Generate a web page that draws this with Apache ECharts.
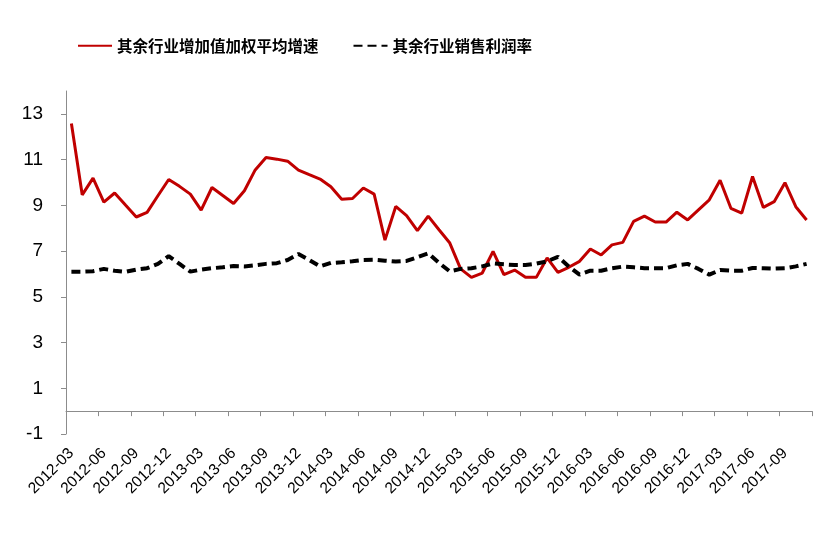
<!DOCTYPE html>
<html>
<head>
<meta charset="utf-8">
<script src="https://cdn.jsdelivr.net/npm/echarts@6/dist/echarts.min.js"></script>
<style>html,body{margin:0;padding:0;background:#fff;}#c{width:837px;height:538px;}</style>
</head>
<body>
<div id="c"></div>
<script>
var categories = [
 '2012-03','2012-04','2012-05','2012-06','2012-07','2012-08','2012-09','2012-10','2012-11','2012-12',
 '2013-01','2013-02','2013-03','2013-04','2013-05','2013-06','2013-07','2013-08','2013-09','2013-10','2013-11','2013-12',
 '2014-01','2014-02','2014-03','2014-04','2014-05','2014-06','2014-07','2014-08','2014-09','2014-10','2014-11','2014-12',
 '2015-01','2015-02','2015-03','2015-04','2015-05','2015-06','2015-07','2015-08','2015-09','2015-10','2015-11','2015-12',
 '2016-01','2016-02','2016-03','2016-04','2016-05','2016-06','2016-07','2016-08','2016-09','2016-10','2016-11','2016-12',
 '2017-01','2017-02','2017-03','2017-04','2017-05','2017-06','2017-07','2017-08','2017-09','2017-10','2017-11'
];
var growthName = '其余行业增加值加权平均增速';
var marginName = '其余行业销售利润率';
var growth = [
 12.58, 9.46, 10.19, 9.14, 9.54, 9.01, 8.49, 8.69, 9.42, 10.13,
 9.83, 9.49, 8.79, 9.78, 9.43, 9.08, 9.64, 10.55, 11.09, 11.02, 10.93, 10.54,
 10.34, 10.15, 9.81, 9.27, 9.30, 9.76, 9.49, 7.48, 8.95, 8.55, 7.89, 8.53,
 7.93, 7.35, 6.22, 5.85, 6.04, 6.99, 5.97, 6.17, 5.85, 5.85, 6.70, 6.07,
 6.29, 6.55, 7.09, 6.83, 7.27, 7.38, 8.30, 8.53, 8.27, 8.27, 8.70, 8.36,
 8.80, 9.24, 10.10, 8.87, 8.66, 10.26, 8.91, 9.16, 9.99, 8.94, 8.36
];
var margin = [
 6.10, 6.10, 6.12, 6.22, 6.14, 6.09, 6.19, 6.25, 6.44, 6.78,
 6.44, 6.10, 6.19, 6.25, 6.29, 6.35, 6.33, 6.38, 6.44, 6.47, 6.61, 6.87,
 6.61, 6.33, 6.48, 6.51, 6.55, 6.61, 6.62, 6.58, 6.54, 6.57, 6.73, 6.90,
 6.48, 6.11, 6.22, 6.25, 6.33, 6.46, 6.42, 6.39, 6.39, 6.45, 6.55, 6.75,
 6.33, 5.97, 6.14, 6.14, 6.25, 6.32, 6.29, 6.25, 6.25, 6.25, 6.38, 6.44,
 6.22, 5.97, 6.17, 6.14, 6.14, 6.26, 6.25, 6.23, 6.25, 6.33, 6.44
];
var yTicks = [-1, 1, 3, 5, 7, 9, 11, 13];

var chart = echarts.init(document.getElementById('c'), null, {renderer: 'canvas'});
var axisGray = '#8c8c8c';
chart.setOption({
  animation: false,
  backgroundColor: '#ffffff',
  legend: {
    left: 72,
    top: 33,
    itemWidth: 34,
    itemHeight: 14,
    itemGap: 34,
    itemStyle: {opacity: 0},
    textStyle: {fontFamily: 'Noto Sans CJK SC', fontWeight: 'bold', fontSize: 15.5, color: '#000'},
    data: [growthName, marginName]
  },
  grid: {left: 66, right: 25, top: 91, bottom: 104, containLabel: false},
  xAxis: [
    {
      type: 'category',
      data: categories,
      boundaryGap: true,
      axisLine: {onZero: true, lineStyle: {color: axisGray, width: 1}},
      axisTick: {show: true, interval: 2, length: 5, lineStyle: {color: axisGray}},
      axisLabel: {show: false},
      splitLine: {show: false}
    },
    {
      type: 'category',
      data: categories,
      position: 'bottom',
      boundaryGap: true,
      axisLine: {show: false, onZero: false},
      axisTick: {show: false},
      axisLabel: {
        interval: 2, rotate: 45, margin: 17,
        fontFamily: 'Liberation Sans, Arial', fontSize: 15.5, color: '#000'
      },
      splitLine: {show: false}
    }
  ],
  yAxis: {
    type: 'value',
    min: -1, max: 14, interval: 2,
    axisLine: {show: true, lineStyle: {color: axisGray, width: 1}},
    axisTick: {show: true, length: 5, customValues: yTicks, lineStyle: {color: axisGray}},
    axisLabel: {customValues: yTicks, margin: 23, fontFamily: 'Liberation Sans, Arial', fontSize: 19, color: '#000'},
    splitLine: {show: false}
  },
  series: [
    {
      name: growthName, type: 'line', data: growth, xAxisIndex: 0,
      symbol: 'none', smooth: false,
      lineStyle: {color: '#C00000', width: 3},
      itemStyle: {color: '#C00000'}
    },
    {
      name: marginName, type: 'line', data: margin, xAxisIndex: 0,
      symbol: 'none', smooth: false,
      lineStyle: {color: '#000000', width: 4, type: [9, 5]},
      itemStyle: {color: '#000000'}
    }
  ]
});
</script>
</body>
</html>
